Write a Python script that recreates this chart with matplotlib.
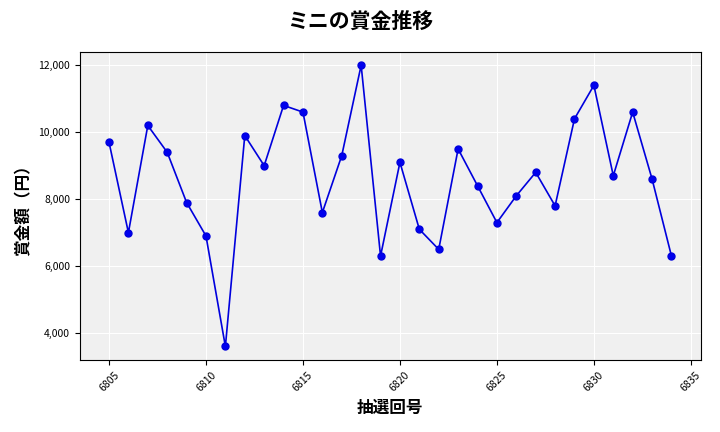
import matplotlib
matplotlib.use("Agg")
import matplotlib.pyplot as plt
from matplotlib.ticker import FuncFormatter

plt.rcParams['font.family'] = ['Noto Sans CJK JP', 'DejaVu Sans']

draws = list(range(6805, 6835))
prizes = [9700, 7000, 10200, 9400, 7900, 6900, 3600, 9900, 9000, 10800,
          10600, 7600, 9300, 12000, 6300, 9100, 7100, 6500, 9500, 8400,
          7300, 8100, 8800, 7800, 10400, 11400, 8700, 10600, 8600, 6300]

fig = plt.figure(figsize=(7.2, 4.32), dpi=100)
ax = fig.add_axes([0.111, 0.167, 0.862, 0.713])
ax.set_facecolor('#f0f0f0')
ax.grid(True, color='white', linewidth=0.8)
ax.set_axisbelow(True)
ax.plot(draws, prizes, color='#0000dd', marker='o', markersize=5, linewidth=1.2,
        markerfacecolor='#0000ee')
ax.set_xticks(range(6805, 6836, 5))
ax.tick_params(axis='x', labelrotation=45, labelsize=7.5)
ax.tick_params(axis='y', labelsize=7.5)
ax.yaxis.set_major_formatter(FuncFormatter(lambda v, p: f'{int(v):,}'))
ax.set_xlim(6803.5, 6835.5)
ax.set_ylim(3200, 12400)
ax.set_xlabel('抽選回号', fontsize=12, fontweight='bold')
ax.set_ylabel('賞金額（円）', fontsize=12, fontweight='bold')
fig.suptitle('ミニの賞金推移', fontsize=15, fontweight='bold', y=0.975)
fig.savefig('out.png')
